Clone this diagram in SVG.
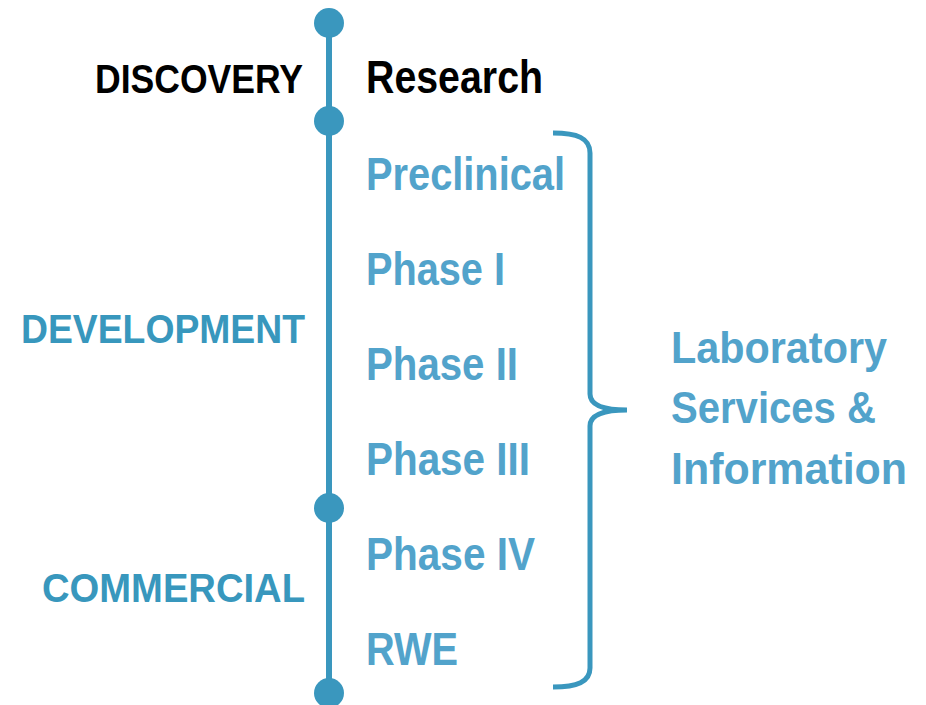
<svg xmlns="http://www.w3.org/2000/svg" width="926" height="705" viewBox="0 0 926 705">
<style>
.t{font-family:"Liberation Sans",Arial,sans-serif;font-weight:bold}
.stage{font-size:41px;fill:#3897BD}
.phase{font-size:47px;fill:#52A3CB}
.lab{font-size:44px;fill:#52A3CB}
.black{fill:#000}
.dot{fill:#3A97BE}
.ln{stroke:#3A97BE;fill:none}
</style>
<rect width="926" height="705" fill="#fff"/>
<g id="connectors">
<line class="ln" x1="329" y1="23" x2="329" y2="693" stroke-width="6"/>
<path id="brace" class="ln" stroke-width="5" d="M553,133 C577,133 590,138 590,153 L590,394 C590,404 600,410 627,410 C600,410 590,416 590,426 L590,668 C590,682 577,687 553,687"/>
</g>
<g id="milestones">
<circle class="dot" cx="329" cy="23" r="15"/>
<circle class="dot" cx="329" cy="121" r="15"/>
<circle class="dot" cx="329" cy="508" r="15"/>
<circle class="dot" cx="329" cy="693" r="15"/>
</g>
<g id="stage-discovery"><text class="t stage black" x="95" y="93" textLength="208" lengthAdjust="spacingAndGlyphs">DISCOVERY</text></g>
<g id="stage-development"><text class="t stage" x="21" y="343" textLength="284" lengthAdjust="spacingAndGlyphs">DEVELOPMENT</text></g>
<g id="stage-commercial"><text class="t stage" x="42" y="602" textLength="263" lengthAdjust="spacingAndGlyphs">COMMERCIAL</text></g>
<g id="research"><text class="t phase black" x="366" y="93" textLength="177" lengthAdjust="spacingAndGlyphs">Research</text></g>
<g id="preclinical"><text class="t phase" x="366" y="190" textLength="199" lengthAdjust="spacingAndGlyphs">Preclinical</text></g>
<g id="phase1"><text class="t phase" x="366" y="285" textLength="139" lengthAdjust="spacingAndGlyphs">Phase I</text></g>
<g id="phase2"><text class="t phase" x="366" y="380" textLength="152" lengthAdjust="spacingAndGlyphs">Phase II</text></g>
<g id="phase3"><text class="t phase" x="366" y="475" textLength="164" lengthAdjust="spacingAndGlyphs">Phase III</text></g>
<g id="phase4"><text class="t phase" x="366" y="570" textLength="169" lengthAdjust="spacingAndGlyphs">Phase IV</text></g>
<g id="rwe"><text class="t phase" x="366" y="665" textLength="92" lengthAdjust="spacingAndGlyphs">RWE</text></g>
<g id="lab-services">
<text class="t lab" x="671" y="363" textLength="216" lengthAdjust="spacingAndGlyphs">Laboratory</text>
<text class="t lab" x="671" y="423" textLength="205" lengthAdjust="spacingAndGlyphs">Services &amp;</text>
<text class="t lab" x="671" y="484" textLength="236" lengthAdjust="spacingAndGlyphs">Information</text>
</g>
</svg>
